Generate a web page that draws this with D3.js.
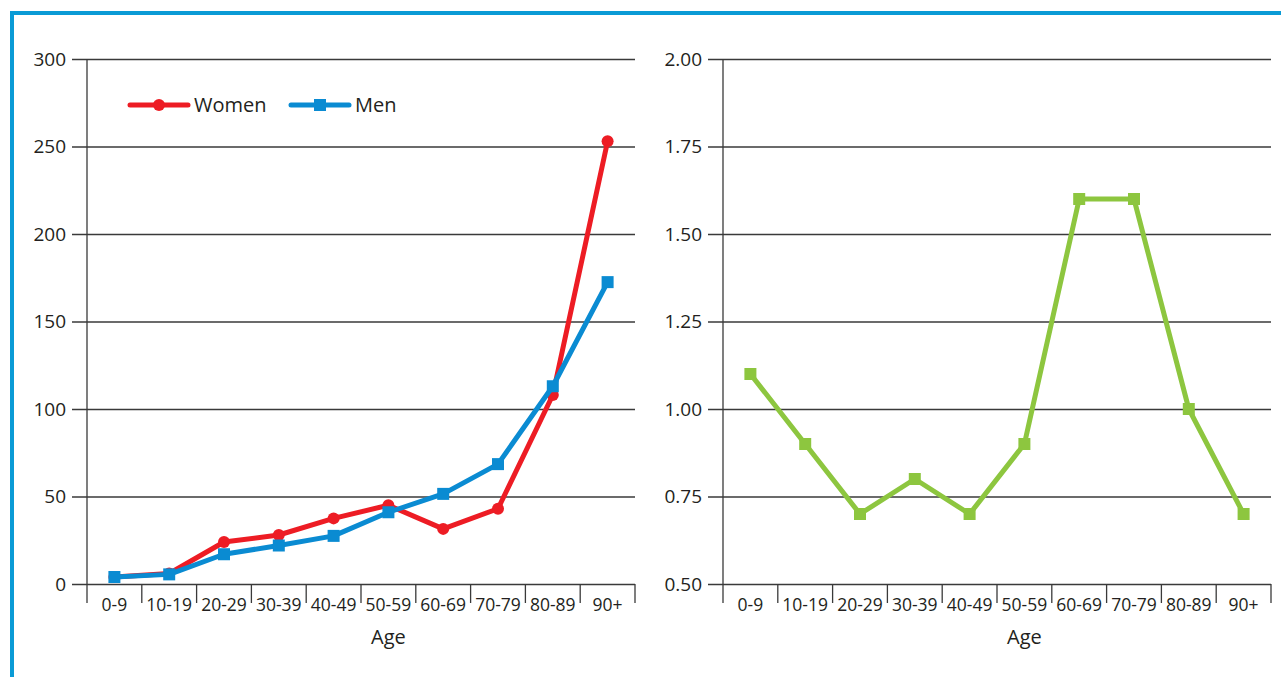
<!DOCTYPE html>
<html>
<head>
<meta charset="utf-8">
<script src="https://cdn.jsdelivr.net/npm/d3@7"></script>
<style>
  body { margin: 0; background: #fff; }
  text { font-family: "Open Sans", sans-serif; fill: #231f20; }
</style>
</head>
<body>
<script>
(function () {
  'use strict';

  const width = 1281,
    height = 677;

  // data
  var ages = ['0-9', '10-19', '20-29', '30-39', '40-49', '50-59', '60-69', '70-79', '80-89', '90+'];
  var women = [4, 6, 24, 28, 37.5, 45, 31.5, 43, 108, 253];
  var men = [4, 5.5, 17, 22, 27.5, 41, 51.5, 68.5, 113, 172.5];
  var ratio = [1.1, 0.9, 0.7, 0.8, 0.7, 0.9, 1.6, 1.6, 1.0, 0.7];
  var leftTicks = [0, 50, 100, 150, 200, 250, 300];
  var rightTicks = [0.5, 0.75, 1.0, 1.25, 1.5, 1.75, 2.0];

  var red = '#ed1c24', blue = '#0a8bd2', green = '#8dc63f';

  var svg = d3.select('body')
    .append('svg')
    .attr('width', width)
    .attr('height', height);

  // blue frame
  svg.append('line').attr('x1', 10).attr('x2', width).attr('y1', 13).attr('y2', 13)
    .style('stroke', '#0a9bd6').style('stroke-width', 4);
  svg.append('line').attr('x1', 12).attr('x2', 12).attr('y1', 11).attr('y2', height)
    .style('stroke', '#0a9bd6').style('stroke-width', 4);

  function panel(x0, x1, domain, ticks, fmt) {
    var g = svg.append('g');
    var x = d3.scaleBand().domain(ages).range([x0, x1]).padding(0);
    var y = d3.scaleLinear().domain(domain).range([584, 59]);

    // gridlines + y labels
    var yAxis = d3.axisLeft(y).tickValues(ticks).tickFormat(fmt)
      .tickSize(-(x1 - x0) - 15).tickPadding(6);
    var ya = g.append('g').attr('transform', 'translate(' + x1 + ',0)').call(yAxis);
    ya.select('.domain').remove();
    ya.selectAll('line').attr('x1', 0).attr('x2', -(x1 - x0) - 15)
      .style('stroke', '#3a3a3a').style('stroke-width', 1.3);
    ya.selectAll('text').attr('x', -(x1 - x0) - 21)
      .style('font-size', '19px').style('fill', '#231f20');

    // y axis line
    g.append('line').attr('x1', x0).attr('x2', x0).attr('y1', 59).attr('y2', 603)
      .style('stroke', '#3a3a3a').style('stroke-width', 1.3);

    // category boundary ticks
    g.selectAll('.bt').data(ages.slice(1).concat(['end']))
      .enter().append('line')
      .attr('x1', (d, i) => x0 + x.step() * (i + 1))
      .attr('x2', (d, i) => x0 + x.step() * (i + 1))
      .attr('y1', 584).attr('y2', 603)
      .style('stroke', '#3a3a3a').style('stroke-width', 1.3);

    // x labels
    g.selectAll('.xl').data(ages).enter().append('text')
      .attr('x', d => x(d) + x.bandwidth() / 2)
      .attr('y', 611)
      .attr('text-anchor', 'middle')
      .style('font-size', '17.5px')
      .text(d => d);

    // axis title sits under the 50-59 column
    g.append('text')
      .attr('x', x('50-59') + x.bandwidth() / 2).attr('y', 644)
      .attr('text-anchor', 'middle')
      .style('font-size', '20px')
      .text('Age');

    return { x: x, y: y, g: g };
  }

  function series(p, vals, color, shape, size) {
    var cx = (d, i) => p.x(ages[i]) + p.x.bandwidth() / 2;
    var line = d3.line().x(cx).y(d => p.y(d));
    p.g.append('path').datum(vals)
      .attr('d', line)
      .style('fill', 'none').style('stroke', color)
      .style('stroke-width', 5).style('stroke-linejoin', 'round');
    if (shape === 'circle') {
      p.g.selectAll(null).data(vals).enter().append('circle')
        .attr('cx', cx).attr('cy', d => p.y(d)).attr('r', size)
        .style('fill', color);
    } else {
      p.g.selectAll(null).data(vals).enter().append('rect')
        .attr('x', (d, i) => cx(d, i) - size / 2).attr('y', d => p.y(d) - size / 2)
        .attr('width', size).attr('height', size)
        .style('fill', color);
    }
  }

  var left = panel(87, 635, [0, 300], leftTicks, d3.format('d'));
  series(left, women, red, 'circle', 6);
  series(left, men, blue, 'rect', 12);

  var right = panel(723, 1271, [0.5, 2.0], rightTicks, d3.format('.2f'));
  series(right, ratio, green, 'rect', 12);

  // legend
  var legend = [
    { name: 'Women', color: red, shape: 'circle', x: 130 },
    { name: 'Men', color: blue, shape: 'rect', x: 291 }
  ];
  var lg = svg.append('g').selectAll('g').data(legend).enter().append('g')
    .attr('transform', d => 'translate(' + d.x + ',105)');
  lg.append('line').attr('x1', 0).attr('x2', 58)
    .style('stroke', d => d.color).style('stroke-width', 5).style('stroke-linecap', 'round');
  lg.filter(d => d.shape === 'circle').append('circle')
    .attr('cx', 29).attr('r', 6).style('fill', d => d.color);
  lg.filter(d => d.shape === 'rect').append('rect')
    .attr('x', 23).attr('y', -6).attr('width', 12).attr('height', 12).style('fill', d => d.color);
  lg.append('text').attr('x', 64).attr('y', 7)
    .style('font-size', '20px')
    .text(d => d.name);

})();
</script>
</body>
</html>
